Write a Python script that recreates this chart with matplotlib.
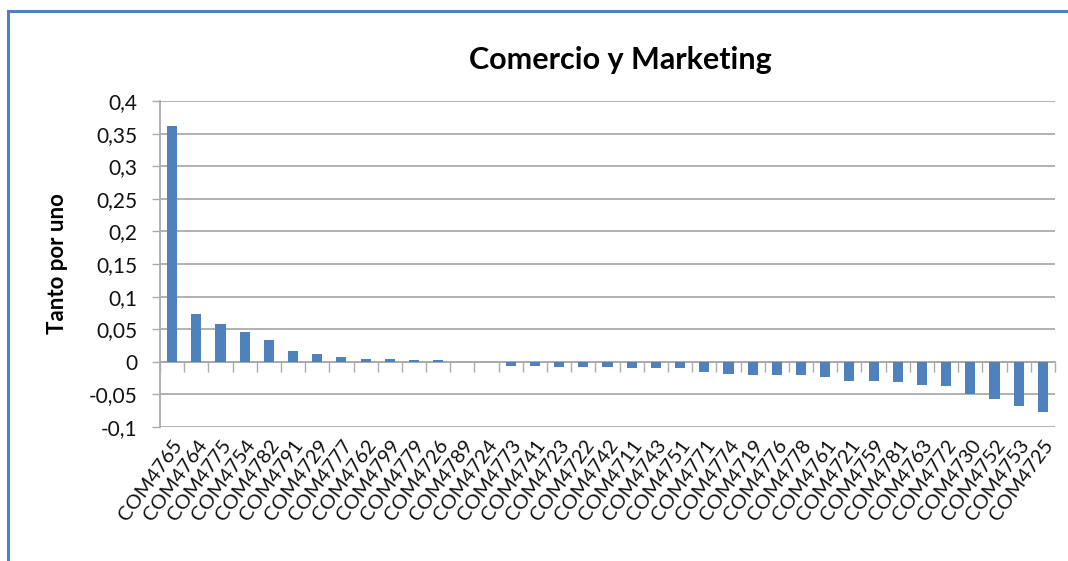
import matplotlib
matplotlib.use("Agg")
import matplotlib.pyplot as plt
from matplotlib.lines import Line2D
from matplotlib.ticker import FuncFormatter
import numpy as np

plt.rcParams['font.family'] = ['Lato', 'DejaVu Sans']

categories = ["COM4765", "COM4764", "COM4775", "COM4754", "COM4782", "COM4791",
              "COM4729", "COM4777", "COM4762", "COM4799", "COM4779", "COM4726",
              "COM4789", "COM4724", "COM4773", "COM4741", "COM4723", "COM4722",
              "COM4742", "COM4711", "COM4743", "COM4751", "COM4771", "COM4774",
              "COM4719", "COM4776", "COM4778", "COM4761", "COM4721", "COM4759",
              "COM4781", "COM4763", "COM4772", "COM4730", "COM4752", "COM4753",
              "COM4725"]
values = [0.361, 0.073, 0.058, 0.045, 0.034, 0.017, 0.012, 0.008, 0.004, 0.004,
          0.0025, 0.0025, 0.0, 0.0, -0.007, -0.007, -0.0085, -0.0085, -0.0085,
          -0.010, -0.010, -0.010, -0.016, -0.018, -0.021, -0.021, -0.021, -0.023,
          -0.029, -0.029, -0.031, -0.035, -0.037, -0.049, -0.057, -0.068, -0.077]
yticks = [-0.1, -0.05, 0, 0.05, 0.1, 0.15, 0.2, 0.25, 0.3, 0.35, 0.4]
title = "Comercio y Marketing"
ylabel = "Tanto por uno"

W, H = 1068, 561
fig = plt.figure(figsize=(W / 100, H / 100), dpi=100)
fig.patch.set_facecolor("white")

left, right, top, bottom = 160, 1055, 101, 427
ax = fig.add_axes([left / W, 1 - bottom / H, (right - left) / W, (bottom - top) / H])

x = np.arange(len(categories))
ax.bar(x, values, width=0.42, color="#4F81BD", zorder=3)

grid_c = "#ABABAB"
ax.set_ylim(-0.1, 0.4)
ax.set_xlim(-0.5, len(categories) - 0.5)
ax.set_yticks(yticks)

def fmt(v, pos):
    if abs(v) < 1e-9:
        return "0"
    s = ("%.2f" % v).rstrip("0")
    return s.replace(".", ",")

ax.yaxis.set_major_formatter(FuncFormatter(fmt))
ax.yaxis.grid(True, color=grid_c, linewidth=1.3, zorder=0)
ax.tick_params(axis="y", length=6, width=1, color=grid_c, pad=10, labelsize=15, labelcolor="#111111")

ax.set_xticks(x)
ax.set_xticklabels(categories, rotation=54, ha="right", rotation_mode="anchor", fontsize=14.5)
ax.tick_params(axis="x", length=0, pad=7, labelcolor="#111111")

for s in ["top", "right", "bottom"]:
    ax.spines[s].set_visible(False)
ax.spines["left"].set_color(grid_c)
ax.spines["left"].set_linewidth(1.3)

# category axis at zero with boundary ticks
sec = ax.secondary_xaxis(0.2)
sec.set_xticks(np.arange(len(categories) + 1) - 0.5)
sec.set_xticklabels([])
sec.tick_params(length=7, width=1, color=grid_c, direction="out")
sec.spines["bottom"].set_color(grid_c)
sec.spines["bottom"].set_linewidth(1.3)

ax.set_ylabel(ylabel, fontsize=16, fontweight="bold", labelpad=15)
fig.text(620 / W, 1 - 60 / H, title, ha="center", va="center", fontsize=22, fontweight="bold")

# chart border (partial, as in reference)
bc = "#4F81BD"
fig.add_artist(Line2D([8 / W, 1.0], [1 - 11 / H, 1 - 11 / H], color=bc, linewidth=2.2, transform=fig.transFigure))
fig.add_artist(Line2D([8 / W, 8 / W], [0, 1 - 11 / H], color=bc, linewidth=2.2, transform=fig.transFigure))

fig.savefig("out.png", dpi=100)
